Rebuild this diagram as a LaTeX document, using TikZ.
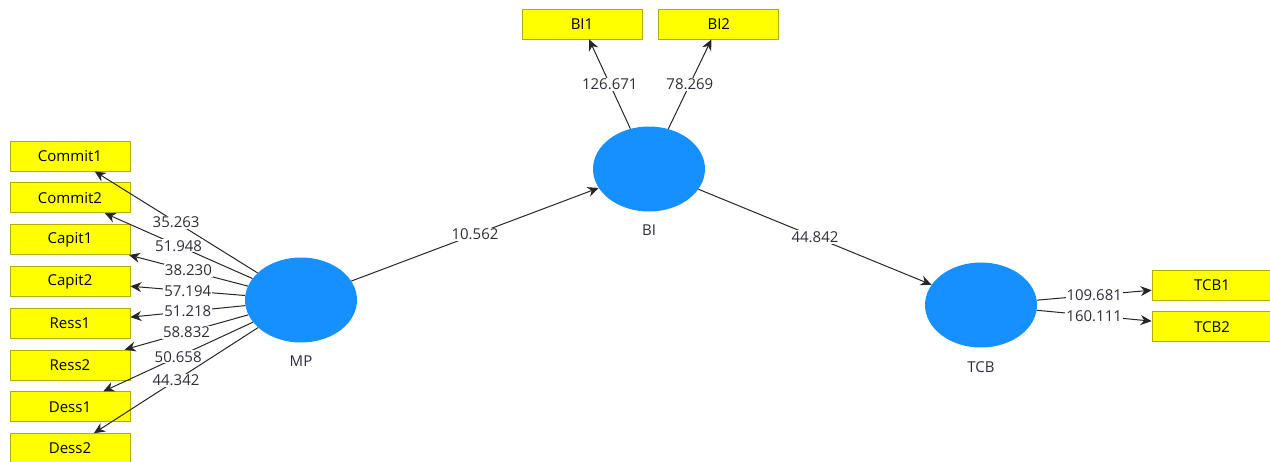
\documentclass[tikz,border=0pt]{standalone}
\usepackage{fontspec}
\setmainfont{Open Sans}
\usetikzlibrary{positioning, arrows.meta, shapes.geometric}
\definecolor{lvblue}{RGB}{22,144,255}
\definecolor{mvyellow}{RGB}{255,255,0}
\definecolor{mvedge}{RGB}{175,175,0}
\definecolor{valtext}{RGB}{45,45,60}

\begin{document}
\begin{tikzpicture}[
  x=1pt, y=-1pt,
  font=\fontsize{15}{17}\selectfont,
  latent/.style={ellipse, fill=lvblue, minimum width=112pt,
                 minimum height=85pt, inner sep=0pt},
  item/.style={draw=mvedge, fill=mvyellow, minimum width=120pt,
               minimum height=30pt, inner sep=0pt, line width=0.8pt},
  lvname/.style={text=valtext},
  arr/.style={-{Stealth[length=11pt, width=10pt]}, line width=1pt,
              draw=black!85},
  val/.style={fill=white, inner sep=1pt, text=valtext},
]
\useasboundingbox (0,0) rectangle (1270,461);
% latent variables
\node[latent] (MP)  at (301,300) {};
\node[latent] (BI)  at (649,169) {};
\node[latent] (TCB) at (981,305) {};
\node[lvname, below=10pt of MP]  (MPname)  {MP};
\node[lvname, below=10pt of BI]  (BIname)  {BI};
\node[lvname, below=10pt of TCB] (TCBname) {TCB};
% indicators
\node[item] (Commit1) at (70,156) {Commit1};
\node[item, below=11pt of Commit1] (Commit2) {Commit2};
\node[item, below=11pt of Commit2] (Capit1)  {Capit1};
\node[item, below=11pt of Capit1]  (Capit2)  {Capit2};
\node[item, below=11pt of Capit2]  (Ress1)   {Ress1};
\node[item, below=11pt of Ress1]   (Ress2)   {Ress2};
\node[item, below=11pt of Ress2]   (Dess1)   {Dess1};
\node[item, below=11pt of Dess1]   (Dess2)   {Dess2};
\node[item] (BI1) at (582,24) {BI1};
\node[item, right=16pt of BI1] (BI2) {BI2};
\node[item] (TCB1) at (1212,285) {TCB1};
\node[item, below=11pt of TCB1] (TCB2) {TCB2};
% outer loadings
\draw[arr] (MP) -- node[val]{35.263} (Commit1);
\draw[arr] (MP) -- node[val]{51.948} (Commit2);
\draw[arr] (MP) -- node[val]{38.230} (Capit1);
\draw[arr] (MP) -- node[val]{57.194} (Capit2);
\draw[arr] (MP) -- node[val]{51.218} (Ress1);
\draw[arr] (MP) -- node[val]{58.832} (Ress2);
\draw[arr] (MP) -- node[val]{50.658} (Dess1);
\draw[arr] (MP) -- node[val]{44.342} (Dess2);
\draw[arr] (BI) -- node[val]{126.671} (BI1);
\draw[arr] (BI) -- node[val]{78.269} (BI2);
\draw[arr] (TCB) -- node[val]{109.681} (TCB1);
\draw[arr] (TCB) -- node[val]{160.111} (TCB2);
% inner model
\draw[arr] (MP) -- node[val]{10.562} (BI);
\draw[arr] (BI) -- node[val]{44.842} (TCB);
\end{tikzpicture}
\end{document}
